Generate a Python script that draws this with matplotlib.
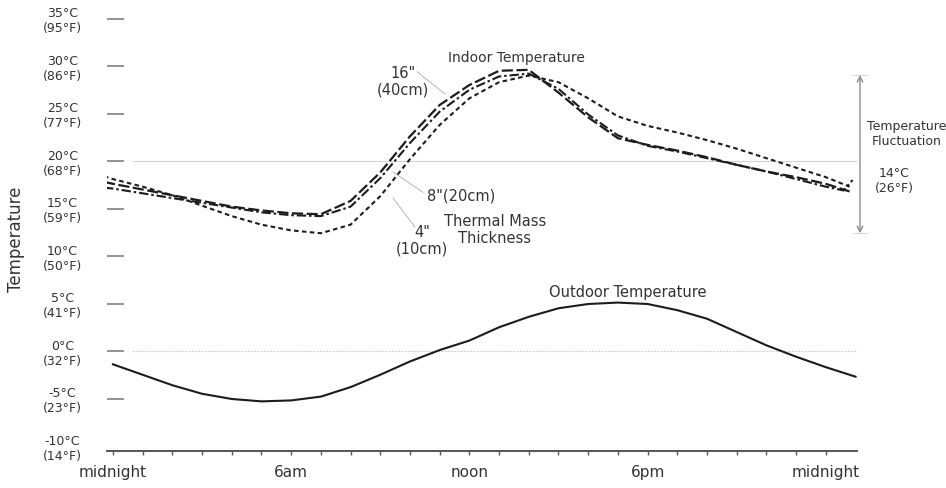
import matplotlib
matplotlib.use("Agg")
import matplotlib.pyplot as plt

# ---- data -------------------------------------------------------------
# hour of day (0 = midnight)
hours_outdoor = list(range(0, 26))
outdoor_temp = [-1.4, -2.5, -3.6, -4.5, -5.05, -5.3, -5.2, -4.8, -3.8, -2.5,
                -1.1, 0.1, 1.1, 2.5, 3.6, 4.5, 4.95, 5.1, 4.95, 4.3,
                3.4, 2.0, 0.6, -0.6, -1.7, -2.7]

hours_indoor = [-0.3] + list(range(0, 25)) + [24.8]
# 16" (40cm) thermal mass
indoor_16in = [17.8, 17.6, 17.0, 16.4, 15.8, 15.2, 14.8, 14.5, 14.4, 15.8,
               18.8, 22.6, 25.9, 28.0, 29.5, 29.6, 27.2, 24.6, 22.4, 21.7,
               21.1, 20.4, 19.6, 18.9, 18.3, 17.6, 16.8]
# 8" (20cm) thermal mass
hours_8in = [-0.3] + list(range(0, 25)) + [24.6, 24.9]
indoor_8in = [17.2, 17.1, 16.6, 16.1, 15.6, 15.1, 14.6, 14.3, 14.2, 15.2,
              18.2, 21.9, 25.2, 27.5, 28.9, 29.2, 27.6, 24.9, 22.7, 21.6,
              21.0, 20.3, 19.6, 18.9, 18.1, 17.3, 16.9, 18.0]
# 4" (10cm) thermal mass
indoor_4in = [18.4, 18.1, 17.3, 16.4, 15.3, 14.2, 13.3, 12.7, 12.4, 13.3,
              16.3, 20.2, 23.8, 26.6, 28.3, 29.0, 28.3, 26.6, 24.7, 23.7,
              23.0, 22.2, 21.3, 20.3, 19.3, 18.3, 17.3]

y_ticks = [-10, -5, 0, 5, 10, 15, 20, 25, 30, 35]
y_tick_labels = ["-10°C\n(14°F)", "-5°C\n(23°F)", "0°C\n(32°F)", "5°C\n(41°F)",
                 "10°C\n(50°F)", "15°C\n(59°F)", "20°C\n(68°F)", "25°C\n(77°F)",
                 "30°C\n(86°F)", "35°C\n(95°F)"]
x_ticks = [0, 6, 12, 18, 24]
x_tick_labels = ["midnight", "6am", "noon", "6pm", "midnight"]

fluct_low, fluct_high = 12.4, 29.05

# ---- figure -----------------------------------------------------------
TXT = "#333333"
LINE = "#1c1c1c"

fig = plt.figure(figsize=(9.46, 4.88), dpi=100)
ax = fig.add_axes([107 / 946, 0.0763, 750 / 946, 0.9227])
ax.set_xlim(-0.2, 25.05)
ax.set_ylim(-10.5, 36.9)

# reference lines at 20°C and 0°C
ax.plot([0.67, 25.0], [20, 20], color="#d4d4d4", lw=0.8, zorder=1)
ax.plot([0.65, 25.0], [0, 0], color="#cfcfcf", lw=0.9, ls=(0, (1.5, 1.0)), zorder=1)

# indoor curves
ax.plot(hours_indoor, indoor_16in, color=LINE, lw=1.6, ls=(0, (5, 1.6)), zorder=3)
ax.plot(hours_8in, indoor_8in, color=LINE, lw=1.5, ls=(0, (4.5, 1.4, 1.2, 1.4)), zorder=3)
ax.plot(hours_indoor, indoor_4in, color=LINE, lw=1.5, ls=(0, (2.2, 1.6)), zorder=3)

# outdoor curve
ax.plot(hours_outdoor, outdoor_temp, color=LINE, lw=1.5, zorder=3)

# axes styling
for s in ("left", "top", "right"):
    ax.spines[s].set_visible(False)
ax.spines["bottom"].set_color("#555555")
ax.spines["bottom"].set_linewidth(1.4)

ax.set_yticks(y_ticks)
ax.set_yticklabels(y_tick_labels, fontsize=9, color=TXT)
for lbl in ax.get_yticklabels():
    lbl.set_multialignment("center")
ax.tick_params(axis="y", direction="in", length=12, width=1.3, color="#8a8a8a", pad=18)
ax.yaxis.get_major_ticks()[0].tick1line.set_visible(False)

ax.set_xticks(x_ticks)
ax.set_xticks(range(0, 25), minor=True)
ax.set_xticklabels(x_tick_labels, fontsize=11, color=TXT)
ax.tick_params(axis="x", which="both", direction="out", length=3, width=1.0,
               color="#555555", pad=7)

ax.set_ylabel("Temperature", fontsize=12, color=TXT)
ax.yaxis.set_label_coords(-0.109, 0.47)

# annotations
ax.text(13.6, 30.8, "Indoor Temperature", fontsize=10, color=TXT, ha="center", va="center")
ax.text(17.34, 6.2, "Outdoor Temperature", fontsize=10.5, color=TXT, ha="center", va="center")

ax.text(9.76, 28.35, "16\"\n(40cm)", fontsize=10.5, color=TXT, ha="center", va="center",
        multialignment="center", linespacing=1.1)
ax.plot([10.24, 11.18], [29.4, 27.05], color="#aaaaaa", lw=0.6, zorder=2)

ax.text(11.72, 16.3, "8\"(20cm)", fontsize=10.5, color=TXT, ha="center", va="center")
ax.plot([9.43, 10.44], [18.85, 16.7], color="#aaaaaa", lw=0.6, zorder=2)

ax.text(10.4, 11.6, "4\"\n(10cm)", fontsize=10.5, color=TXT, ha="center", va="center",
        multialignment="center", linespacing=1.1)
ax.plot([9.43, 10.17], [16.1, 13.05], color="#aaaaaa", lw=0.6, zorder=2)

ax.text(12.86, 12.7, "Thermal Mass\nThickness", fontsize=10.5, color=TXT, ha="center",
        va="center", multialignment="center", linespacing=1.15)

# fluctuation range arrow
ax.annotate("", xy=(25.15, fluct_high), xytext=(25.15, fluct_low),
            arrowprops=dict(arrowstyle="<->", color="#8a8a8a", lw=1.0,
                            shrinkA=0, shrinkB=0, mutation_scale=10),
            annotation_clip=False)
for yv in (fluct_high, fluct_low):
    ax.plot([24.9, 25.4], [yv, yv], color="#b0b0b0", lw=0.8, ls=(0, (1, 1)), clip_on=False)

ax.text(26.73, 22.8, "Temperature\nFluctuation", fontsize=9, color=TXT, ha="center",
        va="center", multialignment="center", linespacing=1.2, clip_on=False)
ax.text(26.3, 17.9, "14°C\n(26°F)", fontsize=9, color=TXT, ha="center", va="center",
        multialignment="center", linespacing=1.2, clip_on=False)

fig.savefig("out.png", dpi=100, facecolor="white")
